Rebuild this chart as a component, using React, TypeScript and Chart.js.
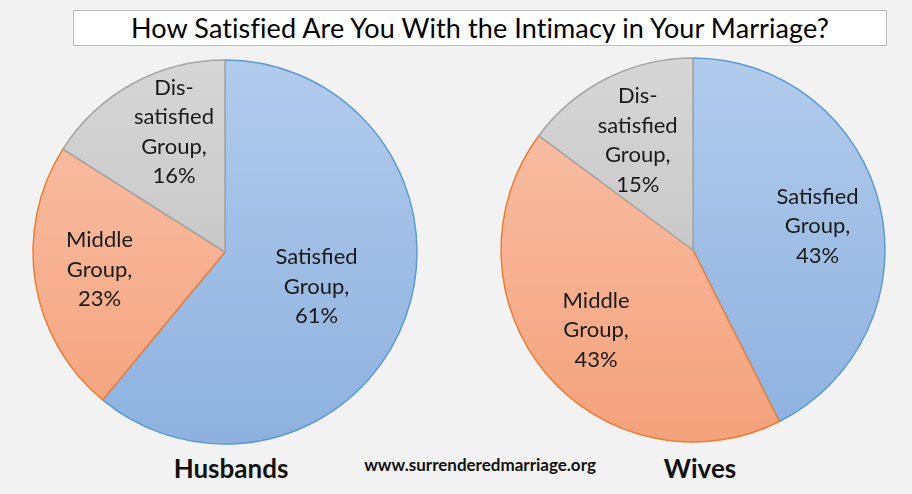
import React, { useEffect, useRef } from "react";
import { Chart, registerables } from "chart.js";

Chart.register(...registerables);

const TITLE = "How Satisfied Are You With the Intimacy in Your Marriage?";
const SOURCE = "www.surrenderedmarriage.org";

const categories = ["Satisfied Group", "Middle Group", "Dis-satisfied Group"];
const husbandsValues = [61, 23, 16];
const wivesValues = [43, 43, 15];
const husbandsName = "Husbands";
const wivesName = "Wives";

// styles (not data)
const gradTop = ["#b1cbeb", "#f9c2ab", "#d6d6d6"];
const gradBottom = ["#8eb1df", "#f4a27b", "#bcbcbc"];
const borders = ["#5b9bd5", "#ed7d31", "#a5a5a5"];
// label placement: fraction of radius, and angular nudge (degrees) from slice middle
const husbandsLabelRadius = [0.51, 0.66, 0.68];
const husbandsLabelNudge = [1, 1, 5.8];
const wivesLabelRadius = [0.66, 0.655, 0.64];
const wivesLabelNudge = [2.6, 0.5, 0];

const FONT = "Lato, 'Open Sans', sans-serif";

function splitName(name: string): string[] {
  const parts = name.split(/(?<=-)|\s+/).filter((s) => s.length > 0);
  parts[parts.length - 1] = parts[parts.length - 1] + ",";
  return parts;
}

const labelPlugin = {
  id: "sliceLabels",
  afterDatasetsDraw(chart: any, _args: any, opts: any) {
    const ctx = chart.ctx;
    const meta = chart.getDatasetMeta(0);
    const values = chart.data.datasets[0].data as number[];
    const labels = chart.data.labels as string[];
    const fracs: number[] = opts.radius || [];
    const nudges: number[] = opts.nudge || [];
    ctx.save();
    ctx.fillStyle = "#1a1a1a";
    ctx.font = `22px ${FONT}`;
    ctx.textAlign = "center";
    ctx.textBaseline = "middle";
    const lh = 29.5;
    meta.data.forEach((arc: any, i: number) => {
      const p = arc.getProps(["x", "y", "startAngle", "endAngle", "outerRadius"], true);
      const mid = (p.startAngle + p.endAngle) / 2 + ((nudges[i] ?? 0) * Math.PI) / 180;
      const r = p.outerRadius * (fracs[i] ?? 0.6);
      const cx = p.x + Math.cos(mid) * r;
      const cy = p.y + Math.sin(mid) * r;
      const lines = [...splitName(labels[i]), `${values[i]}%`];
      const y0 = cy - ((lines.length - 1) * lh) / 2;
      lines.forEach((t, k) => ctx.fillText(t, cx, y0 + k * lh));
    });
    ctx.restore();
  },
};

function PieChart({
  values,
  labelRadius,
  labelNudge,
}: {
  values: number[];
  labelRadius: number[];
  labelNudge: number[];
}) {
  const ref = useRef<HTMLCanvasElement | null>(null);
  useEffect(() => {
    if (!ref.current) return;
    const chart = new Chart(ref.current, {
      type: "pie",
      data: {
        labels: categories,
        datasets: [
          {
            data: values,
            backgroundColor: (c: any) => {
              const area = c.chart.chartArea;
              if (!area) return gradTop[c.dataIndex];
              const cx = (area.left + area.right) / 2;
              const cy = (area.top + area.bottom) / 2;
              const g = c.chart.ctx.createLinearGradient(cx, cy - 192, cx, cy + 192);
              g.addColorStop(0, gradTop[c.dataIndex]);
              g.addColorStop(1, gradBottom[c.dataIndex]);
              return g;
            },
            borderColor: borders,
            borderWidth: 1.5,
            radius: 192,
          } as any,
        ],
      },
      options: {
        animation: false,
        responsive: false,
        maintainAspectRatio: false,
        layout: { padding: 0 },
        plugins: {
          legend: { display: false },
          tooltip: { enabled: false },
          title: { display: false },
          sliceLabels: { radius: labelRadius, nudge: labelNudge },
        } as any,
      },
      plugins: [labelPlugin],
    });
    return () => chart.destroy();
  }, [values, labelRadius, labelNudge]);
  return <canvas ref={ref} width={400} height={400} style={{ width: 400, height: 400 }} />;
}

export default function App() {
  return (
    <div
      style={{
        position: "fixed",
        left: 0,
        top: 0,
        width: 912,
        height: 494,
        background: "#f2f2f2",
        fontFamily: FONT,
        overflow: "hidden",
      }}
    >
      <div
        style={{
          position: "absolute",
          left: 73,
          top: 10,
          width: 812,
          height: 34,
          background: "#ffffff",
          border: "1px solid #bfbfbf",
          textAlign: "center",
          lineHeight: "34px",
          fontSize: 27,
          color: "#000",
          whiteSpace: "nowrap",
          letterSpacing: 0.1,
        }}
      >
        {TITLE}
      </div>
      <div style={{ position: "absolute", left: 25, top: 52, width: 400, height: 400 }}>
        <PieChart values={husbandsValues} labelRadius={husbandsLabelRadius} labelNudge={husbandsLabelNudge} />
      </div>
      <div style={{ position: "absolute", left: 493, top: 50, width: 400, height: 400 }}>
        <PieChart values={wivesValues} labelRadius={wivesLabelRadius} labelNudge={wivesLabelNudge} />
      </div>
      <div
        style={{
          position: "absolute",
          left: 131,
          width: 200,
          top: 452,
          textAlign: "center",
          fontSize: 26,
          fontWeight: 700,
          color: "#111",
        }}
      >
        {husbandsName}
      </div>
      <div
        style={{
          position: "absolute",
          left: 600,
          width: 200,
          top: 452,
          textAlign: "center",
          fontSize: 26,
          fontWeight: 700,
          color: "#111",
        }}
      >
        {wivesName}
      </div>
      <div
        style={{
          position: "absolute",
          left: 330,
          width: 300,
          top: 454,
          textAlign: "center",
          fontSize: 17,
          fontWeight: 700,
          color: "#111",
        }}
      >
        {SOURCE}
      </div>
    </div>
  );
}
